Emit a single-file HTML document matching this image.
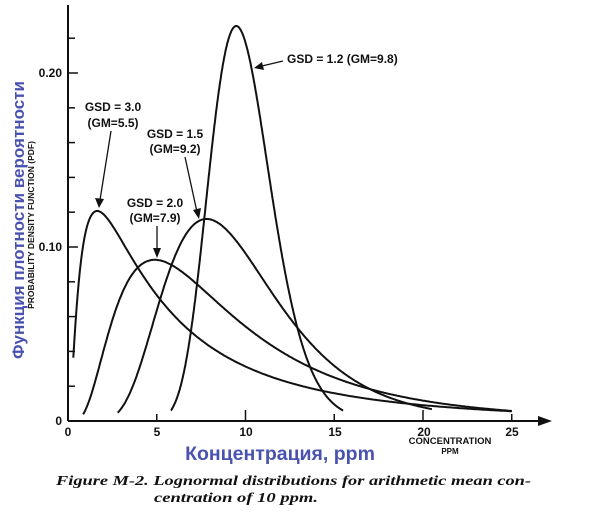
<!DOCTYPE html>
<html><head><meta charset="utf-8"><style>
html,body{margin:0;padding:0;background:#fff;width:600px;height:512px;overflow:hidden}
svg{display:block}
.t{font-family:"Liberation Sans",sans-serif;font-weight:bold;fill:#111}
</style></head><body>
<svg id="s" width="600" height="512" viewBox="0 0 600 512" xmlns="http://www.w3.org/2000/svg">
<g stroke="#111" stroke-width="2" fill="none">
<line x1="68" y1="5" x2="68" y2="421"/>
<line x1="68" y1="421" x2="540" y2="421"/>
</g>
<polygon points="552,421 538,416 538,426" fill="#111"/>
<g stroke="#111" stroke-width="1.5" id="ticks"></g>
<g stroke="#111" stroke-width="2" fill="none" id="curves"></g>
<g class="t" font-size="12">
<text x="62" y="425" text-anchor="end">0</text>
<text x="62" y="251" text-anchor="end">0.10</text>
<text x="62" y="77" text-anchor="end">0.20</text>
<text x="68" y="436" text-anchor="middle">0</text>
<text x="157" y="436" text-anchor="middle">5</text>
<text x="246" y="436" text-anchor="middle">10</text>
<text x="335" y="436" text-anchor="middle">15</text>
<text x="424" y="436" text-anchor="middle">20</text>
<text x="512" y="436" text-anchor="middle">25</text>
<text x="113" y="111" text-anchor="middle">GSD = 3.0</text>
<text x="113" y="127" text-anchor="middle">(GM=5.5)</text>
<text x="175" y="138" text-anchor="middle">GSD = 1.5</text>
<text x="175" y="153" text-anchor="middle">(GM=9.2)</text>
<text x="155" y="207" text-anchor="middle">GSD = 2.0</text>
<text x="155" y="222" text-anchor="middle">(GM=7.9)</text>
<text x="287" y="63">GSD = 1.2 (GM=9.8)</text>
</g>
<g class="t" font-size="9.5">
<text x="450" y="444" text-anchor="middle">CONCENTRATION</text>
<text x="450" y="454" text-anchor="middle" font-size="8">PPM</text>
<text transform="translate(34,225) rotate(-90)" text-anchor="middle" font-size="8.5">PROBABILITY DENSITY FUNCTION (PDF)</text>
</g>
<text transform="translate(24,220) rotate(-90)" text-anchor="middle" font-family="Liberation Sans,sans-serif" font-size="17" font-weight="bold" fill="#4a52b0">Функция плотности вероятности</text>
<text x="280" y="460" text-anchor="middle" font-family="Liberation Sans,sans-serif" font-size="19.5" font-weight="bold" fill="#4a52b0">Концентрация, ppm</text>
<g font-family="Liberation Serif,serif" font-style="italic" font-weight="bold" font-size="14" fill="#111">
<text x="56" y="485" textLength="475" lengthAdjust="spacingAndGlyphs">Figure M-2. Lognormal distributions for arithmetic mean con-</text>
<text x="154" y="502" textLength="164" lengthAdjust="spacingAndGlyphs">centration of 10 ppm.</text>
</g>
<g stroke="#111" stroke-width="1.3">
<line x1="111" y1="131" x2="100" y2="200"/>
<line x1="185" y1="157" x2="197" y2="212"/>
<line x1="157" y1="226" x2="157" y2="250"/>
<line x1="283" y1="61" x2="262" y2="66"/>
</g>
<g fill="#111">
<polygon points="99,208 95,198 104,199"/>
<polygon points="199,219 193,210 201,208"/>
<polygon points="157,258 153,248 161,248"/>
<polygon points="254,68 262,62 264,70"/>
</g>
</svg>
<script>
var X=function(x){return 68+17.75*x},Y=function(y){return 421-1740*y};
function f(x,gsd,gm){var s=Math.log(gsd),m=Math.log(gm);return Math.exp(-Math.pow(Math.log(x)-m,2)/(2*s*s))/(x*s*Math.sqrt(2*Math.PI));}
var cs=[[3,5.5,0.3,25],[2,7.9,0.85,25],[1.5,9.2,2.8,20.5],[1.2,9.8,5.8,15.5]];
var g=document.getElementById('curves'),h='';
cs.forEach(function(c){var d='';for(var i=0;i<=400;i++){var x=c[2]+(c[3]-c[2])*i/400;d+=(i?'L':'M')+X(x).toFixed(1)+','+Y(f(x,c[0],c[1])).toFixed(1);}h+='<path d="'+d+'"/>';});
g.innerHTML=h;
var t='';for(var k=1;k<=11;k++){var y=421-174*k/5;var L=(k%5==0)?10:7;t+='<line x1="68" y1="'+y+'" x2="'+(68+L)+'" y2="'+y+'"/>';}
for(var k=1;k<=5;k++){var x=68+88.75*k;t+='<line x1="'+x+'" y1="421" x2="'+x+'" y2="'+(k%2==0?410:414)+'"/>';}
document.getElementById('ticks').innerHTML=t;
</script>
</body></html>
